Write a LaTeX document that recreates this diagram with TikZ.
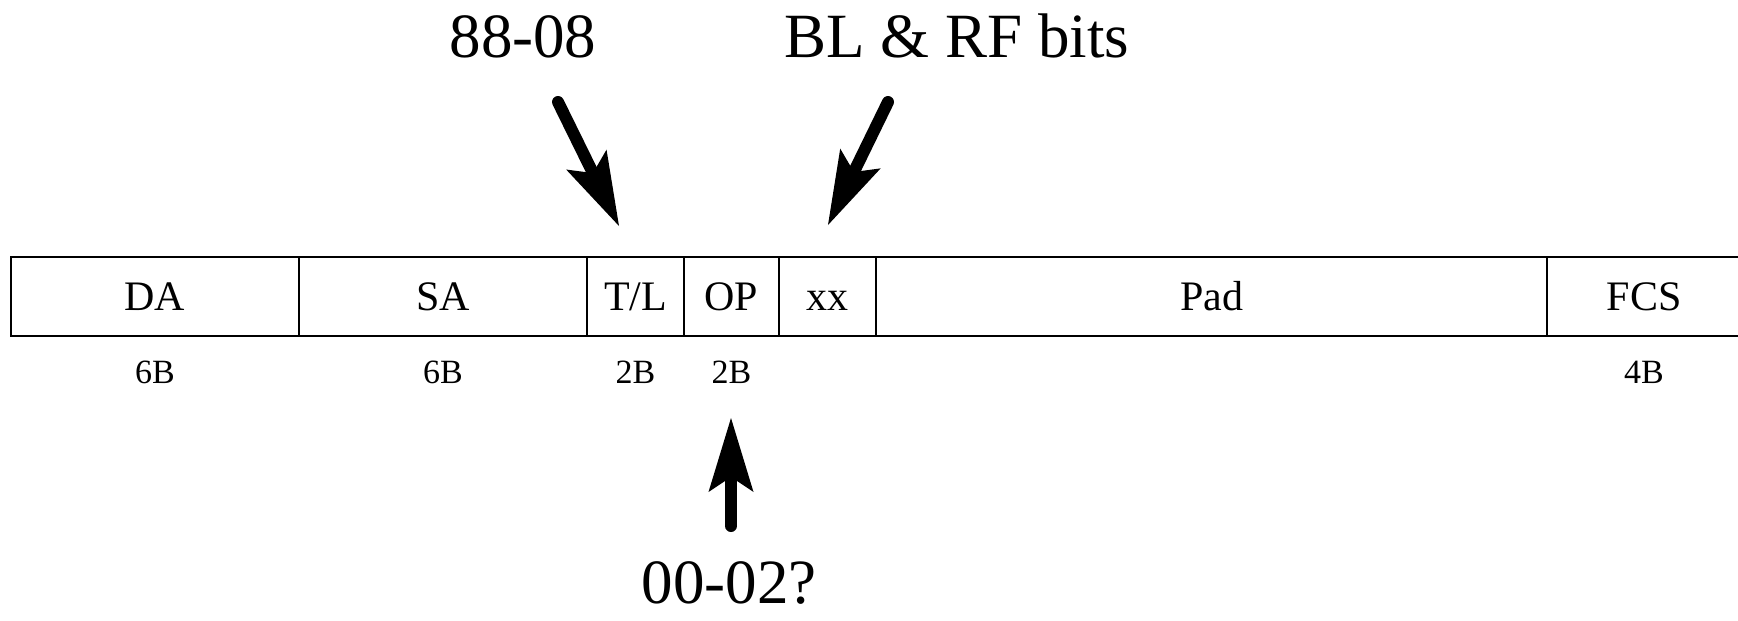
\documentclass[tikz,border=0pt]{standalone}
\usepackage{fontspec}
\setmainfont{Liberation Serif}
\newfontfamily\timesface{Liberation Serif}
\usetikzlibrary{arrows.meta}
\begin{document}
\begin{tikzpicture}[x=1pt,y=-1pt,
  cell/.style={draw, line width=1.5pt, inner sep=0pt, minimum height=79pt,
    text height=27.8pt, text depth=0pt, font=\timesface\fontsize{42}{50}\selectfont},
  sizelabel/.style={anchor=base, inner sep=0pt, font=\timesface\fontsize{34}{40}\selectfont},
  callout/.style={anchor=base, inner sep=0pt, font=\timesface\fontsize{63}{74}\selectfont},
  pointer/.style={line width=12pt, line cap=round,
    -{Stealth[length=74pt,width=45pt,inset=15pt,line width=0pt]}}]
\useasboundingbox (0,0) rectangle (1738,621);

% frame fields
\node[cell, minimum width=288pt] (da)  at (155,296.5)   {DA};
\node[cell, minimum width=288pt] (sa)  at (443,296.5)   {SA};
\node[cell, minimum width=97pt]  (tl)  at (635.5,296.5) {T/L};
\node[cell, minimum width=95pt]  (op)  at (731.5,296.5) {OP};
\node[cell, minimum width=97pt]  (xx)  at (827.5,296.5) {xx};
\node[cell, minimum width=671pt] (pad) at (1211.5,296.5) {Pad};
\node[cell, minimum width=194pt] (fcs) at (1644,296.5)  {FCS};

% field sizes
\node[sizelabel] (sda)  at (155,383)   {6B};
\node[sizelabel] (ssa)  at (443,383)   {6B};
\node[sizelabel] (stl)  at (635.5,383) {2B};
\node[sizelabel] (sop)  at (731.5,383) {2B};
\node[sizelabel] (sfcs) at (1644,383)  {4B};

% callouts
\node[callout] (type)  at (523,57)  {88-08};
\node[callout] (bits)  at (957,57)  {BL \& RF bits};
\node[callout, text depth=0pt] (opval) at (729,603) {00-02?};

% pointers
\coordinate (typefrom) at (558,102);
\coordinate (typeto)   at (619,226);
\coordinate (bitsfrom) at (888,102);
\coordinate (bitsto)   at (828,225);
\coordinate (opfrom)   at (731,526);
\coordinate (opto)     at (731,418);
\draw[pointer] (typefrom) -- (typeto);
\draw[pointer] (bitsfrom) -- (bitsto);
\draw[pointer] (opfrom) -- (opto);
\end{tikzpicture}
\end{document}
